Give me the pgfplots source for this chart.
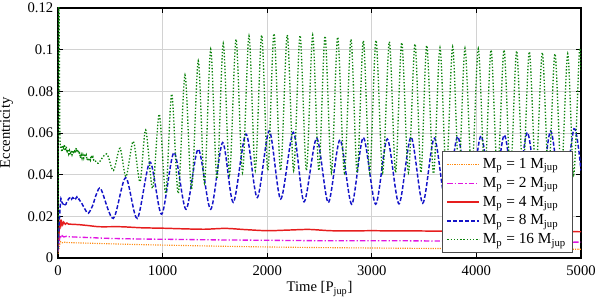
\documentclass[border=0pt]{standalone}
\usepackage{fontspec}
\setmainfont{Liberation Serif}
\usepackage{pgfplots}
\pgfplotsset{compat=1.18}
\usetikzlibrary{calc}
\definecolor{corange}{RGB}{255,140,20}
\definecolor{cmag}{RGB}{225,20,225}
\definecolor{cred}{RGB}{230,30,30}
\definecolor{cblue}{RGB}{20,20,200}
\definecolor{cgreen}{RGB}{10,130,10}
\tikzset{
  s1/.style={draw=corange, line width=0.85pt, dash pattern=on 0.85pt off 0.9pt},
  s2/.style={draw=cmag, line width=1pt, dash pattern=on 4pt off 1.5pt on 1pt off 1.5pt},
  s3/.style={draw=cred, line width=1.1pt, solid},
  s4/.style={draw=cblue, line width=1.1pt, dash pattern=on 3pt off 1.5pt},
  s5/.style={draw=cgreen, line width=1pt, dash pattern=on 1pt off 1.4pt},
}
\begin{document}
\begin{tikzpicture}
\begin{axis}[name=ax,
  scale only axis, width=392.25pt, height=187.5pt,
  xmin=0, xmax=5000, ymin=0, ymax=0.12,
  xtick={0,1000,2000,3000,4000,5000},
  xticklabels={0,1000,2000,3000,4000,5000},
  ytick={0,0.02,0.04,0.06,0.08,0.1,0.12},
  yticklabels={0,0.02,0.04,0.06,0.08,0.1,0.12},
  tick label style={font=\fontsize{11}{13}\selectfont},
  xticklabel style={yshift=-2pt},
  label style={font=\fontsize{11}{13}\selectfont},
  xlabel={Time [P\textsubscript{jup}]},
  ylabel={Eccentricity},
  ylabel style={yshift=4pt},
  xlabel style={yshift=2pt},
  grid=major, grid style={gray!35, line width=0.5pt},
  axis line style={line width=0.8pt},
  tick style={black, line width=0.6pt},
  major tick length=3.5pt,
  legend style={at={(rel axis cs:0.985,0.02)}, anchor=south east,
    draw=gray!60!black, line width=0.8pt, font=\fontsize{11.5}{13}\selectfont,
    cells={anchor=west}, row sep=1pt, inner sep=3pt},
]
% 1 Mjup
\addplot[color=corange, s1, smooth,
  legend image code/.code={\draw[s1] (0pt,0pt) -- (24pt,0pt);}] coordinates {
(0,0.002) (15,0.006) (25,0.0078) (40,0.0073) (60,0.0076) (100,0.0074) (300,0.0071) (500,0.0068) (800,0.0064) (1000,0.0062) (1500,0.0057) (2000,0.0053) (2500,0.005) (3000,0.0048) (3500,0.0046) (4000,0.0045) (4500,0.0043) (5000,0.0042)};
\addlegendentry{M\textsubscript{p} = 1 M\textsubscript{jup}}
% 2 Mjup
\addplot[color=cmag, s2, smooth,
  legend image code/.code={\draw[s2] (0pt,0pt) -- (24pt,0pt);}] coordinates {
(0,0.003) (12,0.008) (22,0.011) (30,0.0098) (40,0.0107) (55,0.0101) (80,0.0104) (100,0.0102) (300,0.0098) (500,0.0094) (800,0.0091) (1000,0.009) (1500,0.0087) (2000,0.0085) (2500,0.0083) (3000,0.0083) (3500,0.0082) (4000,0.008) (4500,0.0078) (5000,0.0076)};
\addlegendentry{M\textsubscript{p} = 2 M\textsubscript{jup}}
% 4 Mjup
\addplot[color=cred, s3, smooth,
  legend image code/.code={\draw[s3] (0pt,0pt) -- (24pt,0pt);}] coordinates {
(0,0.004) (10,0.012) (20,0.018) (28,0.0155) (35,0.0175) (45,0.016) (55,0.0172) (70,0.0162) (85,0.0168) (100,0.0163) (200,0.016) (300,0.0155) (400,0.015) (600,0.015) (800,0.0145) (1000,0.0143) (1200,0.014) (1400,0.0138) (1600,0.0142) (1800,0.0136) (2000,0.0131) (2200,0.0134) (2400,0.0137) (2600,0.0131) (2800,0.013) (3000,0.0131) (3200,0.013) (3400,0.013) (3600,0.0129) (3800,0.0128) (4000,0.0128) (4500,0.0127) (5000,0.0126)};
\addlegendentry{M\textsubscript{p} = 4 M\textsubscript{jup}}
% 8 Mjup
\addplot[color=cblue, s4, smooth,
  legend image code/.code={\draw[s4] (0pt,0pt) -- (24pt,0pt);}] coordinates {
(0,0.004) (10,0.015) (20,0.024) (28,0.0285) (36,0.027) (44,0.0262) (52,0.0258) (60,0.025) (68,0.0256) (76,0.0258) (84,0.027) (92,0.0275) (100,0.0283) (110,0.0288) (120,0.029) (130,0.0282) (140,0.029) (150,0.0287) (160,0.0293) (170,0.0285) (180,0.0293) (190,0.028) (200,0.0283) (215,0.027) (230,0.026) (260,0.0232) (290,0.0215) (330,0.025) (370,0.031) (411,0.033)
(529,0.019) (647,0.0386) (758,0.019) (880,0.046) (991,0.021) (1109,0.0506) (1224,0.0234) (1341,0.0522) (1460,0.0234) (1574,0.0554) (1676,0.0267) (1797,0.0595) (1905,0.029) (2020,0.061) (2129,0.0283) (2250,0.0603) (2352,0.027) (2473,0.0575) (2584,0.0266) (2696,0.0567) (2808,0.0258) (2919,0.0578) (3037,0.0258) (3148,0.0571) (3260,0.026) (3375,0.058) (3487,0.0263) (3598,0.0575) (3710,0.026) (3821,0.0583) (3932,0.026) (4044,0.0586) (4155,0.026) (4267,0.059) (4377,0.026) (4487,0.0602) (4600,0.026) (4710,0.061) (4820,0.026) (4933,0.062) (5000,0.042)};
\addlegendentry{M\textsubscript{p} = 8 M\textsubscript{jup}}
% 16 Mjup
\addplot[color=cgreen, s5, smooth,
  legend image code/.code={\draw[s5] (0pt,0pt) -- (24pt,0pt);}] coordinates {
(0,0.003) (8,0.125) (18,0.06) (30,0.053) (38,0.051) (46,0.054) (54,0.052) (62,0.0545) (70,0.0515) (78,0.0535) (86,0.0505) (94,0.052) (102,0.050) (110,0.0515) (118,0.0495) (126,0.0515) (134,0.0495) (142,0.0515) (150,0.050) (158,0.052) (166,0.0505) (174,0.0528) (182,0.0508) (190,0.052) (198,0.050) (206,0.0505) (214,0.048) (222,0.0495) (230,0.0478) (238,0.0495) (246,0.048) (254,0.050) (262,0.0485) (270,0.0495) (278,0.047) (286,0.048) (294,0.0465) (302,0.048) (310,0.047) (318,0.0492) (326,0.0478) (334,0.0485) (342,0.047) (350,0.0472) (385,0.0455)
(465,0.050) (530,0.042) (593,0.0527) (650,0.039) (720,0.056) (784,0.0366) (838,0.0615) (905,0.0335) (968,0.069) (1030,0.031) (1087,0.0787) (1150,0.031) (1214,0.0879) (1277,0.033) (1341,0.0946) (1400,0.036) (1460,0.1002) (1520,0.038) (1580,0.103) (1640,0.040) (1702,0.105) (1764,0.041) (1826,0.1066) (1886,0.042) (1947,0.107) (2006,0.042) (2065,0.1077) (2128,0.042) (2192,0.107) (2253,0.042) (2314,0.1068) (2375,0.042) (2435,0.107) (2494,0.042) (2553,0.1065) (2614,0.041) (2674,0.106) (2738,0.041) (2801,0.105) (2860,0.041) (2919,0.1043) (2980,0.041) (3040,0.1045) (3104,0.041) (3168,0.1038) (3227,0.041) (3286,0.1034) (3350,0.041) (3413,0.1027) (3470,0.041) (3525,0.102) (3590,0.0405) (3652,0.101) (3712,0.0405) (3773,0.1014) (3832,0.0405) (3891,0.1007) (3955,0.040) (4018,0.1005) (4080,0.040) (4140,0.0998) (4202,0.040) (4264,0.0998) (4325,0.040) (4385,0.0994) (4445,0.040) (4506,0.099) (4568,0.040) (4630,0.0986) (4690,0.040) (4751,0.098) (4812,0.040) (4873,0.098) (4930,0.040) (4984,0.099) (5000,0.09)};
\addlegendentry{M\textsubscript{p} = 16 M\textsubscript{jup}}
\end{axis}
\pgfresetboundingbox
\path ($(ax.south west)+(-43.5pt,-33pt)$) rectangle ($(ax.south west)+(406.5pt,193.5pt)$);
\end{tikzpicture}
\end{document}
